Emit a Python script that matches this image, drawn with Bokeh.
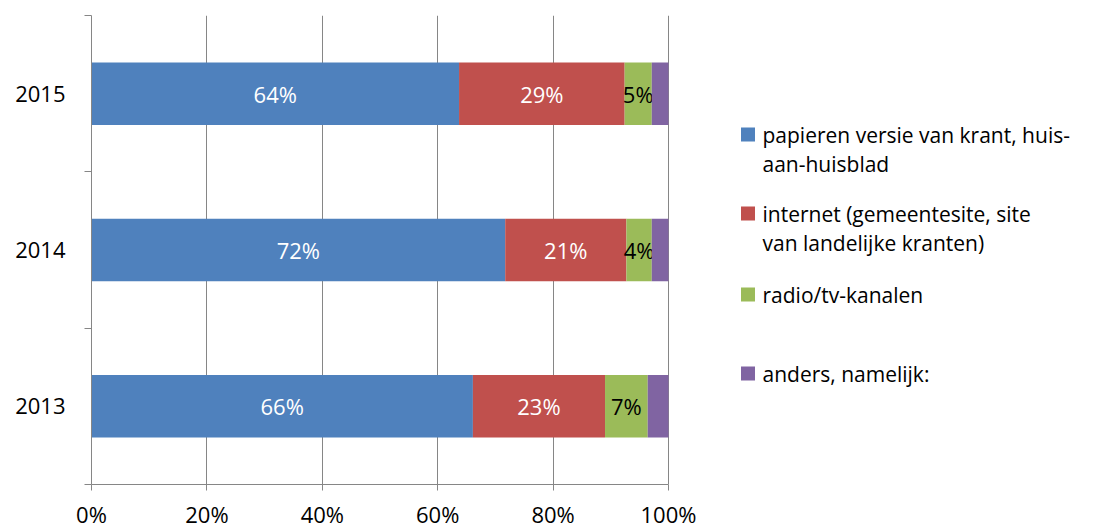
from bokeh.plotting import figure
from bokeh.models import ColumnDataSource, FixedTicker, Range1d
from bokeh.core.properties import value
from bokeh.embed import file_html
from bokeh.resources import INLINE

# ---- data ----
years = ["2013", "2014", "2015"]
papier = [66.1, 71.7, 63.7]
internet = [22.9, 21.0, 28.7]
radio = [7.4, 4.4, 4.7]
anders = [3.6, 2.9, 2.9]
series = [papier, internet, radio, anders]
series_labels = [
    ["papieren versie van krant, huis-", "aan-huisblad"],
    ["internet (gemeentesite, site", "van landelijke kranten)"],
    ["radio/tv-kanalen"],
    ["anders, namelijk:"],
]
show_label = [True, True, True, False]
x_ticks = [0, 20, 40, 60, 80, 100]
x_tick_labels = ["0%", "20%", "40%", "60%", "80%", "100%"]

# ---- style / layout ----
colors = ["#4F81BD", "#C0504D", "#9BBB59", "#8064A2"]
label_colors = ["white", "white", "black", "black"]
FONT = "Open Sans"
FS = "22px"
LEG_FS = "21px"
GRAY = "#868686"

W, H = 1102, 531
ML, MR, MT, MB = 91, 0, 15, 47
frame_w = W - ML - MR
frame_h = H - MT - MB
PLOT_W = 577.0                      # pixels spanned by 0..100 %
x_end = frame_w / PLOT_W * 100.0
n = len(years)

p = figure(width=W, height=H, x_range=Range1d(0, x_end), y_range=Range1d(0, n),
           output_backend="svg", toolbar_location=None,
           min_border_left=ML, min_border_right=MR, min_border_top=MT, min_border_bottom=MB)
p.outline_line_color = None


def px_x(px):  # frame-relative pixel -> data x
    return px / PLOT_W * 100.0


def px_y(py):  # frame-relative pixel from top -> data y
    return n - py / frame_h * n


ypos = [i + 0.5 for i in range(n)]
left = [0.0] * n
for j, vals in enumerate(series):
    right = [l + v for l, v in zip(left, vals)]
    src = ColumnDataSource(dict(y=ypos, left=left, right=right))
    p.hbar(y="y", left="left", right="right", height=0.4, source=src,
           fill_color=colors[j], line_color=None)
    if show_label[j]:
        tsrc = ColumnDataSource(dict(
            x=[(l + r) / 2 for l, r in zip(left, right)], y=ypos,
            t=[f"{round(v)}%" for v in vals]))
        p.text(x="x", y="y", text="t", source=tsrc, text_align="center",
               text_baseline="middle", text_color=label_colors[j],
               text_font=value(FONT), text_font_size=FS)
    left = right

# grid
p.ygrid.visible = False
p.xgrid.ticker = FixedTicker(ticks=x_ticks)
p.xgrid.grid_line_color = GRAY
p.xgrid.grid_line_width = 1

# x axis
xa = p.xaxis[0]
xa.bounds = (x_ticks[0], x_ticks[-1])
xa.ticker = FixedTicker(ticks=x_ticks)
xa.major_label_overrides = {t: l for t, l in zip(x_ticks, x_tick_labels)}
xa.axis_line_color = GRAY
xa.major_tick_line_color = GRAY
xa.major_tick_out = 6
xa.major_tick_in = 0
xa.minor_tick_line_color = None
xa.major_label_standoff = 8
xa.major_label_text_font = FONT
xa.major_label_text_font_size = FS
xa.major_label_text_color = "black"

# y axis
ya = p.yaxis[0]
ya.ticker = FixedTicker(ticks=ypos, minor_ticks=list(range(n + 1)))
ya.major_label_overrides = {y: yr for y, yr in zip(ypos, years)}
ya.axis_line_color = GRAY
ya.major_tick_line_color = None
ya.major_tick_out = 0
ya.major_tick_in = 0
ya.minor_tick_line_color = GRAY
ya.minor_tick_out = 7
ya.minor_tick_in = 0
ya.major_label_standoff = 19
ya.major_label_text_font = FONT
ya.major_label_text_font_size = FS
ya.major_label_text_color = "black"

# ---- legend (drawn inside the extended frame, right of 100 %) ----
entry_py = [119, 198, 279, 358]     # frame-relative pixel y of first line of each entry
line_gap = 29
sq_px, txt_px = 656.5, 671
for j, lines in enumerate(series_labels):
    p.scatter(x=[px_x(sq_px)], y=[px_y(entry_py[j])], marker="square", size=14,
              fill_color=colors[j], line_color=None)
    p.text(x=[px_x(txt_px)] * len(lines),
           y=[px_y(entry_py[j] + k * line_gap) for k in range(len(lines))],
           text=lines, text_align="left", text_baseline="middle", text_color="black",
           text_font=value(FONT), text_font_size=LEG_FS)

open("out.html", "w").write(file_html(p, INLINE))
